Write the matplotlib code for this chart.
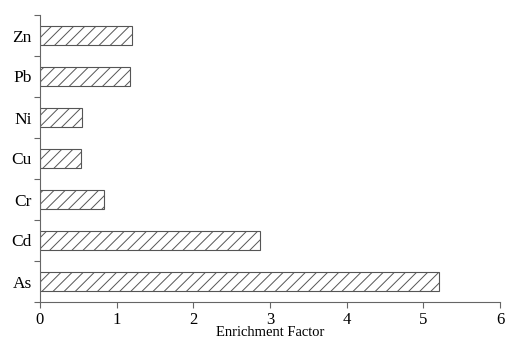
import matplotlib
matplotlib.use("Agg")
import matplotlib.pyplot as plt
import numpy as np

categories = ["As", "Cd", "Cr", "Cu", "Ni", "Pb", "Zn"]
values = [5.2, 2.87, 0.83, 0.54, 0.55, 1.17, 1.2]
xticks = [0, 1, 2, 3, 4, 5, 6]

plt.rcParams['font.family'] = ['Liberation Serif', 'DejaVu Serif']
plt.rcParams['hatch.linewidth'] = 0.7
plt.rcParams['hatch.color'] = '#444444'

fig = plt.figure(figsize=(5.06, 3.41), dpi=100)
ax = fig.add_axes([40/506, 1 - 302/341, 460/506, 287/341])

y = np.arange(len(categories))
ax.barh(y, values, height=0.45, color='white', edgecolor='#555555',
        linewidth=0.8, hatch='///')

ax.set_xlim(0, 6)
ax.set_ylim(-0.5, len(categories) - 0.5)
ax.set_xticks(xticks)
ax.set_xticklabels([str(t) for t in xticks], fontsize=12)
ax.set_yticks(y)
ax.set_yticklabels(categories, fontsize=12.5)
ax.tick_params(axis='y', length=0, pad=6)
ax.set_yticks(np.arange(-0.5, len(categories), 1.0), minor=True)
ax.tick_params(axis='y', which='minor', length=4, color='#666666', width=0.8)
ax.tick_params(axis='x', length=4, color='#666666', width=0.8, pad=3)
ax.set_xlabel("Enrichment Factor", fontsize=10.5, labelpad=-1)

for s in ['top', 'right']:
    ax.spines[s].set_visible(False)
for s in ['left', 'bottom']:
    ax.spines[s].set_color('#666666')
    ax.spines[s].set_linewidth(0.8)

fig.savefig("out.png", dpi=100)
